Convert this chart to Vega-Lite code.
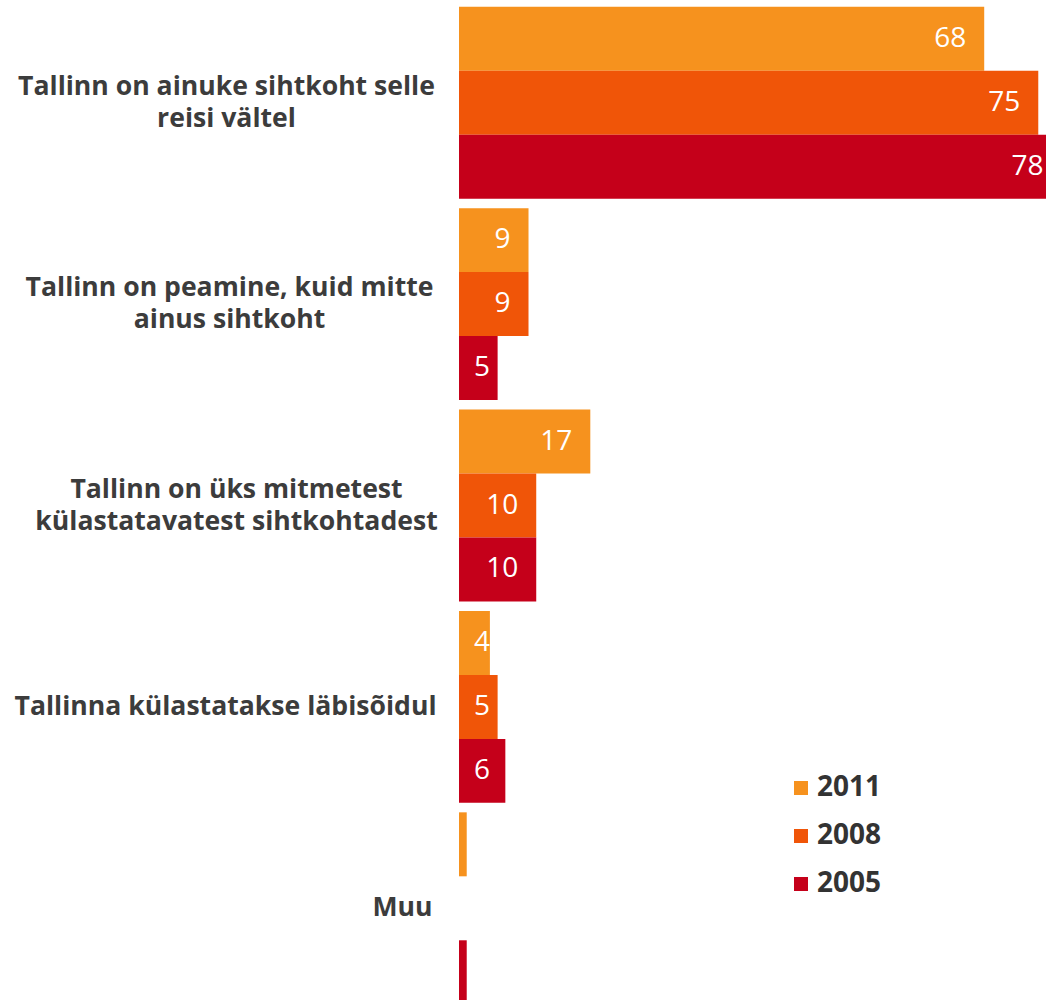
{
  "$schema": "https://vega.github.io/schema/vega-lite/v6.json",
  "width": 587,
  "height": 1000,
  "autosize": {"type": "none"},
  "padding": {"left": 459, "top": 0, "right": 0, "bottom": 0},
  "background": "white",
  "config": {"view": {"stroke": null}, "font": "Open Sans"},
  "data": {
    "values": [
      {"category": "Tallinn on ainuke sihtkoht selle\nreisi vältel", "year": "2011", "value": 68},
      {"category": "Tallinn on ainuke sihtkoht selle\nreisi vältel", "year": "2008", "value": 75},
      {"category": "Tallinn on ainuke sihtkoht selle\nreisi vältel", "year": "2005", "value": 78},
      {"category": "Tallinn on peamine, kuid mitte\nainus sihtkoht", "year": "2011", "value": 9},
      {"category": "Tallinn on peamine, kuid mitte\nainus sihtkoht", "year": "2008", "value": 9},
      {"category": "Tallinn on peamine, kuid mitte\nainus sihtkoht", "year": "2005", "value": 5},
      {"category": "Tallinn on üks mitmetest\nkülastatavatest sihtkohtadest", "year": "2011", "value": 17},
      {"category": "Tallinn on üks mitmetest\nkülastatavatest sihtkohtadest", "year": "2008", "value": 10},
      {"category": "Tallinn on üks mitmetest\nkülastatavatest sihtkohtadest", "year": "2005", "value": 10},
      {"category": "Tallinna külastatakse läbisõidul", "year": "2011", "value": 4},
      {"category": "Tallinna külastatakse läbisõidul", "year": "2008", "value": 5},
      {"category": "Tallinna külastatakse läbisõidul", "year": "2005", "value": 6},
      {"category": "Muu", "year": "2011", "value": 1},
      {"category": "Muu", "year": "2008", "value": 0},
      {"category": "Muu", "year": "2005", "value": 1}
    ]
  },
  "encoding": {
    "y": {
      "field": "category",
      "type": "nominal",
      "sort": null,
      "title": null,
      "scale": {"range": [2, 1009], "paddingInner": 0.047, "paddingOuter": 0.0235},
      "axis": {
        "domain": false,
        "ticks": false,
        "grid": false,
        "labelFont": "Open Sans",
        "labelFontSize": 26.6,
        "labelFontWeight": "bold",
        "labelColor": "#3c3c3c",
        "labelLimit": 600,
        "labelLineHeight": 32,
        "labelBaseline": "middle",
        "labelExpr": "split(datum.value, '\\n')",
        "labelAlign": {"condition": {"test": "datum.value === 'Muu'", "value": "right"}, "value": "center"},
        "labelOffset": {"condition": {"test": "indexof(datum.value, '\\n') >= 0", "value": -16}, "value": 0},
        "labelPadding": {
          "condition": [
            {"test": "datum.value === 'Muu'", "value": 27},
            {"test": "indexof(datum.value, 'ainuke') >= 0", "value": 233},
            {"test": "indexof(datum.value, 'mitmetest') >= 0", "value": 223},
            {"test": "indexof(datum.value, 'läbisõidul') >= 0", "value": 234}
          ],
          "value": 230
        }
      }
    },
    "yOffset": {
      "field": "year",
      "type": "nominal",
      "sort": ["2011", "2008", "2005"],
      "scale": {"paddingInner": 0, "paddingOuter": 0}
    }
  },
  "layer": [
    {
      "mark": {"type": "bar", "clip": true},
      "encoding": {
        "x": {
          "field": "value",
          "type": "quantitative",
          "scale": {"domain": [0, 76], "nice": false, "zero": true},
          "axis": null
        },
        "color": {
          "field": "year",
          "type": "nominal",
          "scale": {"domain": ["2011", "2008", "2005"], "range": ["#F6921E", "#F05508", "#C5001A"]},
          "legend": {
            "title": null,
            "orient": "none",
            "legendX": 328,
            "legendY": 774,
            "symbolType": "square",
            "symbolSize": 196,
            "symbolStrokeWidth": 0,
            "symbolOpacity": 1,
            "labelFont": "Open Sans",
            "labelFontSize": 28,
            "labelFontWeight": "bold",
            "labelColor": "#333333",
            "labelOffset": 2,
            "rowPadding": 20,
            "padding": 0
          }
        }
      }
    },
    {
      "transform": [{"calculate": "max(datum.value - 2.33, 4)", "as": "labelX"}],
      "mark": {"type": "text", "align": "right", "baseline": "middle", "color": "white", "fontSize": 28, "font": "Open Sans"},
      "encoding": {
        "x": {"field": "labelX", "type": "quantitative"},
        "text": {"field": "value", "type": "quantitative"}
      }
    }
  ]
}
